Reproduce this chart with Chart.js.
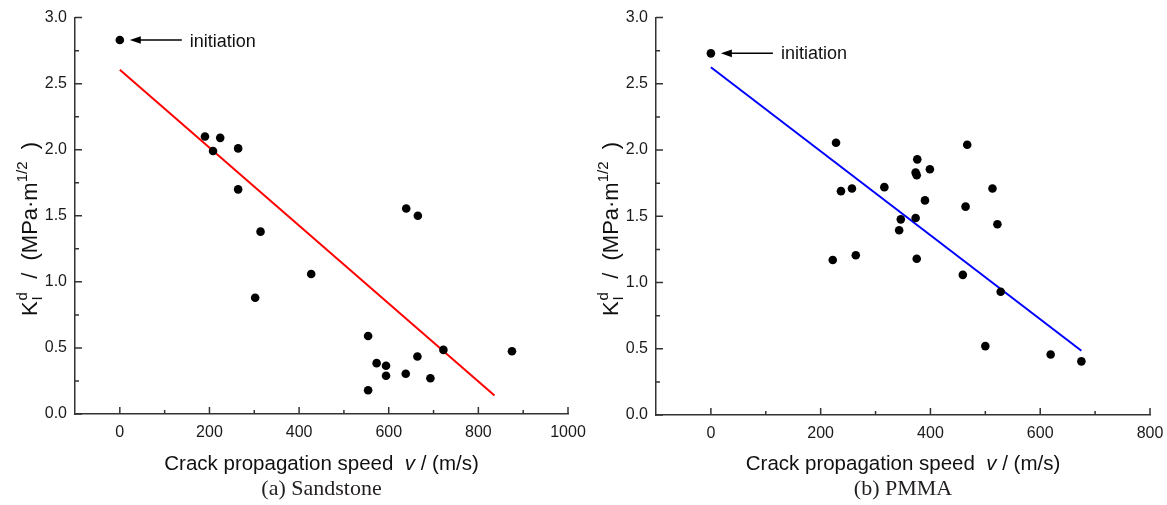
<!DOCTYPE html>
<html><head><meta charset="utf-8">
<script src="https://cdn.jsdelivr.net/npm/chart.js@4.4.1/dist/chart.umd.min.js"></script>
<style>
html,body{margin:0;padding:0;background:#fff;overflow:hidden;width:1167px;height:505px;}
.wrap{position:absolute;top:0;height:505px;width:620px;}
canvas{display:block;}
</style></head><body>
<div class="wrap" style="left:0px"><canvas id="c1" width="620" height="505"></canvas></div>
<div class="wrap" style="left:580px"><canvas id="c2" width="620" height="505"></canvas></div>
<script>
// ---- data ----
const sandstoneSpeed = [0,190,224,208,264,264,314,427,302,639,665,554,554,573,594,594,638,664,693,722,875];
const sandstoneK     = [2.83,2.10,2.09,1.99,2.01,1.70,1.38,1.06,0.88,1.555,1.50,0.59,0.18,0.385,0.365,0.29,0.305,0.435,0.27,0.485,0.475];
const sandstoneFitSpeed = [0,836];
const sandstoneFitK     = [2.605,0.14];
const pmmaSpeed = [0,228,467,376,399,373,375,237,257,316,513,390,464,522,346,373,343,222,264,375,459,528,500,619,675];
const pmmaK     = [2.73,2.055,2.04,1.93,1.855,1.83,1.81,1.69,1.71,1.72,1.71,1.62,1.573,1.44,1.477,1.487,1.395,1.17,1.206,1.18,1.058,0.93,0.52,0.457,0.405];
const pmmaFitSpeed = [0,675];
const pmmaFitK     = [2.625,0.485];
const sandstoneXTicks = [0,200,400,600,800,1000];
const pmmaXTicks = [0,200,400,600,800];
const yTicks = [0,0.5,1.0,1.5,2.0,2.5,3.0];
const annotationText = 'initiation';
const xTitleParts = ['Crack propagation speed  ','v',' / (m/s)'];
const captions = ['(a) Sandstone','(b) PMMA'];

const SANS = "'Liberation Sans', Arial, sans-serif";
const SERIF = "'Liberation Serif', 'Times New Roman', serif";
const AXIS = '#333333';

function zip(xs, ys){ return xs.map((x,i)=>({x:x, y:ys[i]})); }

function decorPlugin(caption, textDy){
  return {
    id:'decor',
    afterDraw(chart){
      const ctx = chart.ctx, xs = chart.scales.x, ys = chart.scales.y, a = chart.chartArea;
      ctx.save();
      // inward tick marks
      ctx.strokeStyle = AXIS; ctx.lineWidth = 1.5;
      ctx.beginPath();
      const xt = xs.ticks.map(t=>t.value);
      xt.forEach(v=>{ const p = xs.getPixelForValue(v); ctx.moveTo(p, a.bottom); ctx.lineTo(p, a.bottom-7); });
      for(let i=0;i<xt.length-1;i++){ const p = xs.getPixelForValue((xt[i]+xt[i+1])/2); ctx.moveTo(p, a.bottom); ctx.lineTo(p, a.bottom-4); }
      const yt = ys.ticks.map(t=>t.value);
      yt.forEach(v=>{ const p = ys.getPixelForValue(v); ctx.moveTo(a.left, p); ctx.lineTo(a.left+7, p); });
      for(let i=0;i<yt.length-1;i++){ const p = ys.getPixelForValue((yt[i]+yt[i+1])/2); ctx.moveTo(a.left, p); ctx.lineTo(a.left+4, p); }
      ctx.stroke();

      // annotation arrow to the initiation point
      const pt = chart.getDatasetMeta(0).data[0];
      const tip = pt.x + 10, py = pt.y;
      ctx.strokeStyle = '#000'; ctx.fillStyle = '#000'; ctx.lineWidth = 1.5;
      ctx.beginPath(); ctx.moveTo(tip+8, py); ctx.lineTo(pt.x+62, py); ctx.stroke();
      ctx.beginPath(); ctx.moveTo(tip, py); ctx.lineTo(tip+11, py-3.8); ctx.lineTo(tip+11, py+3.8); ctx.closePath(); ctx.fill();
      ctx.font = '18px ' + SANS; ctx.fillStyle = '#111'; ctx.textAlign = 'left'; ctx.textBaseline = 'alphabetic';
      ctx.fillText(annotationText, pt.x + 70, py + textDy);

      // x axis title with italic v
      const cx = (a.left + a.right)/2;
      const fonts = ['20.5px '+SANS, 'italic 20.5px '+SANS, '20.5px '+SANS];
      let total = 0; const w = [];
      xTitleParts.forEach((t,i)=>{ ctx.font = fonts[i]; w[i] = ctx.measureText(t).width; total += w[i]; });
      let x0 = cx - total/2;
      ctx.fillStyle = '#111';
      xTitleParts.forEach((t,i)=>{ ctx.font = fonts[i]; ctx.fillText(t, x0, 470); x0 += w[i]; });

      // caption
      ctx.font = '22px ' + SERIF; ctx.textAlign = 'center'; ctx.fillStyle = '#231f20';
      ctx.fillText(caption, cx, 495);

      // rotated y axis title: K^d_I / (MPa·m^1/2 )
      ctx.save();
      const cy = 229, bx = a.left - 38;
      ctx.translate(bx, cy); ctx.rotate(-Math.PI/2);
      ctx.textAlign = 'left'; ctx.fillStyle = '#111';
      const big = '22px ' + SANS, sm = '15px ' + SANS;
      ctx.font = big; const wK = ctx.measureText('K').width;
      const mid = '  /  (MPa\u00B7m'; const wMid = ctx.measureText(mid).width;
      const end = '  )'; const wEnd = ctx.measureText(end).width;
      ctx.font = sm; const wD = Math.max(ctx.measureText('d').width, ctx.measureText('I').width) + 1;
      const wH = ctx.measureText('1/2').width;
      const L = wK + 1 + wD + wMid + wH + wEnd;
      let s = -L/2;
      ctx.font = big; ctx.fillText('K', s, 0); s += wK + 1;
      ctx.font = sm; ctx.fillText('d', s, -10); ctx.fillText('I', s, 5); s += wD;
      ctx.font = big; ctx.fillText(mid, s, 0); s += wMid;
      ctx.font = sm; ctx.fillText('1/2', s, -10); s += wH;
      ctx.font = big; ctx.fillText(end, s, 0);
      ctx.restore();

      ctx.restore();
    }
  };
}

function makeChart(id, pts, fit, color, xMax, xTicks, yAxisWidth, xAxisHeight, padRight, caption, textDy){
  return new Chart(document.getElementById(id), {
    type: 'scatter',
    data: { datasets: [
      { data: pts, backgroundColor: '#000', borderWidth: 0, pointRadius: 4.3, order: 0 },
      { data: fit, showLine: true, borderColor: color, borderWidth: 2, pointRadius: 0, fill: false, order: 1 }
    ]},
    options: {
      responsive: false, animation: false, events: [],
      layout: { padding: { left: 0, right: padRight, top: 17, bottom: 0 } },
      plugins: { legend: { display: false }, tooltip: { enabled: false } },
      scales: {
        x: { type: 'linear', min: -100, max: xMax,
             grid: { display: false, drawTicks: false },
             border: { display: true, color: AXIS, width: 1.5 },
             ticks: { font: { family: SANS, size: 16 }, color: '#1a1a1a', padding: 9, maxRotation: 0,
                      callback: v => String(v) },
             afterBuildTicks: s => { s.ticks = xTicks.map(v => ({ value: v })); },
             afterFit: s => { s.height = xAxisHeight; } },
        y: { type: 'linear', min: 0, max: 3,
             grid: { display: false, drawTicks: false },
             border: { display: true, color: AXIS, width: 1.5 },
             ticks: { font: { family: SANS, size: 16 }, color: '#1a1a1a', padding: 8,
                      callback: v => Number(v).toFixed(1) },
             afterBuildTicks: s => { s.ticks = yTicks.map(v => ({ value: v })); },
             afterFit: s => { s.width = yAxisWidth; } }
      }
    },
    plugins: [decorPlugin(caption, textDy)]
  });
}

makeChart('c1', zip(sandstoneSpeed, sandstoneK), zip(sandstoneFitSpeed, sandstoneFitK), '#ff0000',
          1000, sandstoneXTicks, 75, 91, 52, captions[0], 6.5);
makeChart('c2', zip(pmmaSpeed, pmmaK), zip(pmmaFitSpeed, pmmaFitK), '#0000ff',
          800, pmmaXTicks, 76, 90, 50, captions[1], 6);
</script>
</body></html>
